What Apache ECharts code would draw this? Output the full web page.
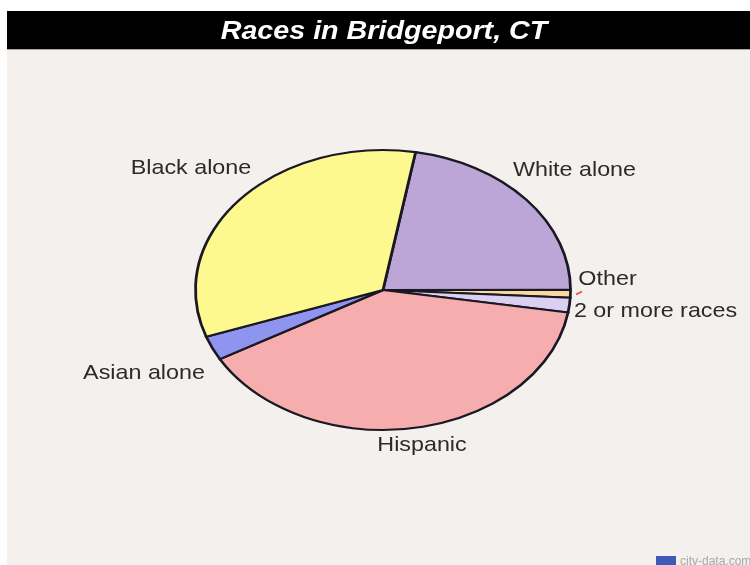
<!DOCTYPE html>
<html>
<head>
<meta charset="utf-8">
<style>html,body{margin:0;padding:0;background:#fff}#chart{width:750px;height:565px}</style>
<script src="https://cdn.jsdelivr.net/npm/echarts@6/dist/echarts.min.js"></script>
</head>
<body>
<div id="chart"></div>
<script>
// Share of residents by group, clockwise from the White slice
const groups = ['White alone', 'Other', '2 or more races', 'Hispanic', 'Asian alone', 'Black alone'];
const shares = [22.2, 0.9, 1.7, 39.2, 2.8, 33.2];
const sliceColors = ['#bca6d8', '#f8d9a0', '#dcd0f2', '#f6adad', '#8f94ee', '#fdf98f'];
const labelSpots = [[574.5, 170], [607.5, 279], [655.5, 311], [422, 445], [144, 373], [191, 168]];

const CX = 383, CY = 290, RX = 187.5, RY = 140;
const START_DEG = -80;
const total = shares.reduce((a, b) => a + b, 0);
const startOf = shares.map((_, i) =>
  START_DEG + shares.slice(0, i).reduce((a, b) => a + b, 0) / total * 360);

const chart = echarts.init(document.getElementById('chart'), null, { renderer: 'canvas' });

function renderSlice(params, api) {
  const i = params.dataIndex;
  const a0 = api.value(1) * Math.PI / 180;
  const a1 = a0 + api.value(0) / total * Math.PI * 2;
  // A circular sector squeezed vertically gives the oval pie
  return {
    type: 'sector',
    x: CX, y: CY,
    scaleX: RX / 100, scaleY: RY / 100,
    shape: { cx: 0, cy: 0, r0: 0, r: 100, startAngle: a0, endAngle: a1, clockwise: true },
    style: { fill: sliceColors[i], stroke: '#1a1822', lineWidth: 2.4, strokeNoScale: true }
  };
}

chart.setOption({
  backgroundColor: '#f3f0ed',
  animation: false,
  graphic: [
    { type: 'rect', shape: { x: 0, y: 0, width: 750, height: 11 }, style: { fill: '#ffffff' } },
    { type: 'rect', shape: { x: 0, y: 0, width: 7, height: 565 }, style: { fill: '#ffffff' } },
    { type: 'rect', shape: { x: 7, y: 11, width: 743, height: 38 }, style: { fill: '#000000' } },
    { type: 'rect', shape: { x: 7, y: 49, width: 743, height: 1 }, style: { fill: '#a8a6a4' } },
    { type: 'text', x: 384, y: 32, scaleX: 1.147, style: {
        text: 'Races in Bridgeport, CT', fill: '#ffffff', align: 'center', verticalAlign: 'middle',
        font: 'italic bold 25px "Liberation Sans", Arial, sans-serif' } },
    // Short leader beside the thin Other slice
    { type: 'line', shape: { x1: 576, y1: 294.5, x2: 582, y2: 291.5 }, style: { stroke: '#f04040', lineWidth: 1.4 } },
    // Site mark in the corner
    { type: 'rect', shape: { x: 656, y: 556, width: 20, height: 9 }, style: { fill: '#3f5bb5' } },
    { type: 'text', x: 680, y: 562, style: {
        text: 'city-data.com', fill: '#a8a8a8', align: 'left', verticalAlign: 'middle',
        font: '12px "Liberation Sans", Arial, sans-serif' } }
  ],
  series: [
    {
      type: 'custom',
      coordinateSystem: 'none',
      clip: false,
      data: shares.map((v, i) => ({ name: groups[i], value: [v, startOf[i]] })),
      renderItem: renderSlice
    },
    {
      // Slice captions placed beside the oval
      type: 'custom',
      coordinateSystem: 'none',
      clip: false,
      data: groups.map((g, i) => ({ name: g, value: i })),
      renderItem: (params) => ({
        type: 'text',
        x: labelSpots[params.dataIndex][0],
        y: labelSpots[params.dataIndex][1],
        scaleX: 1.11,
        style: {
          text: groups[params.dataIndex], fill: '#2b2b2b', align: 'center', verticalAlign: 'middle',
          font: '21px "Liberation Sans", Arial, sans-serif'
        }
      })
    }
  ]
});
</script>
</body>
</html>
